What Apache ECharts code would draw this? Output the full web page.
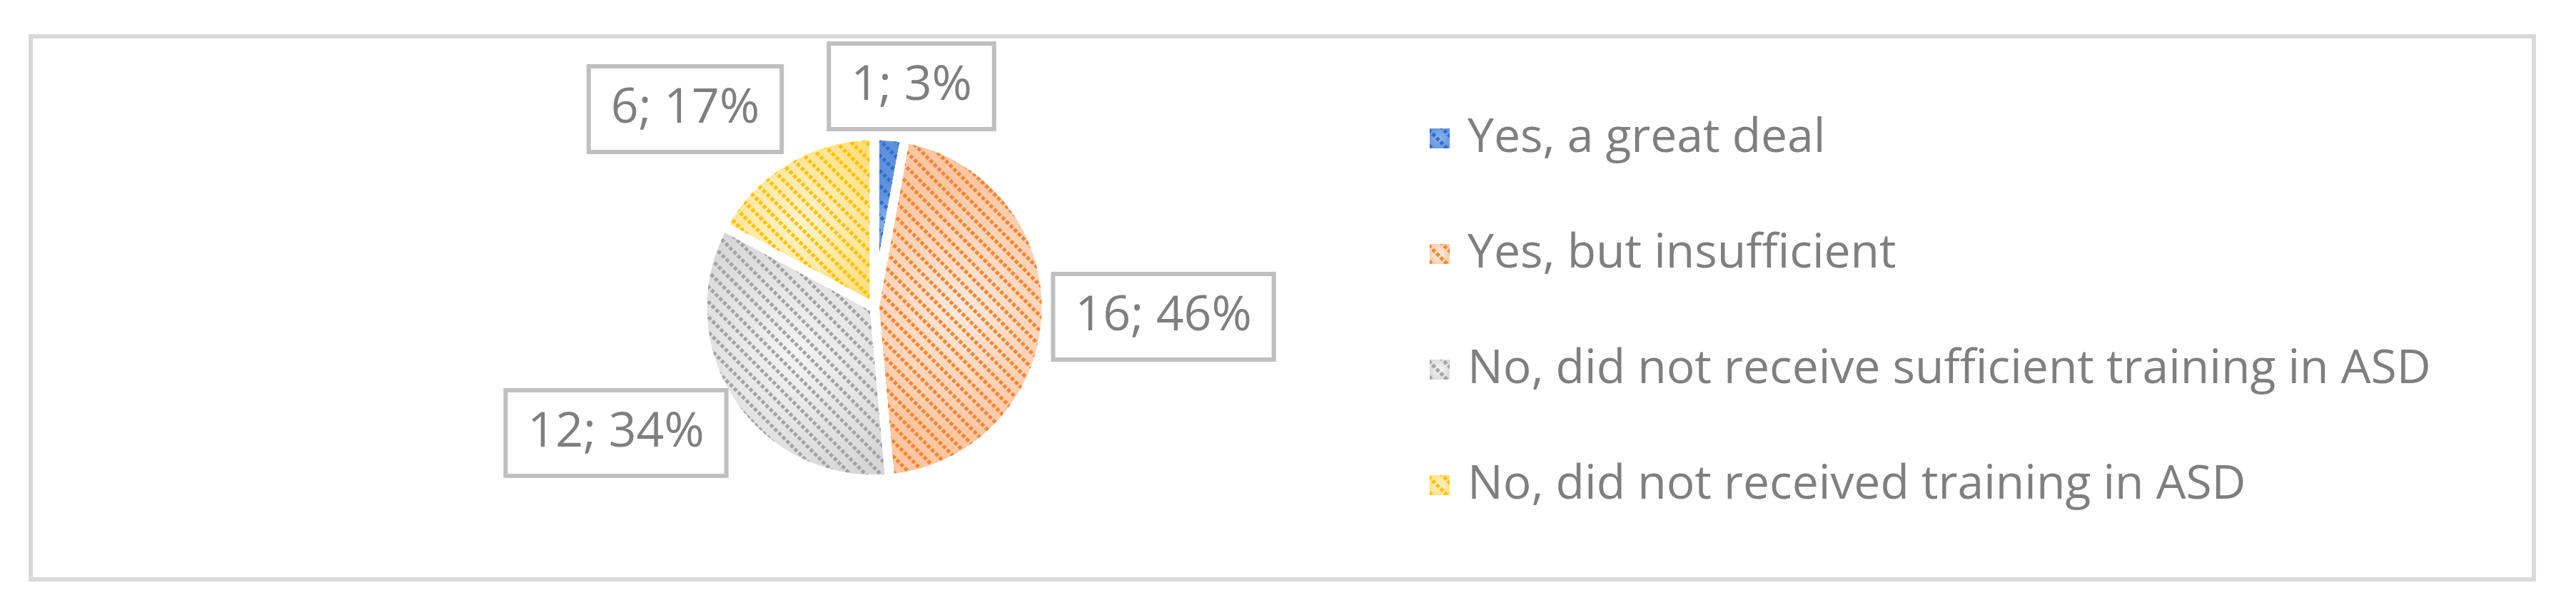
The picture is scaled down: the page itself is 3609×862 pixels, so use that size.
<!DOCTYPE html>
<html>
<head>
<meta charset="utf-8">
<script src="https://cdn.jsdelivr.net/npm/echarts@6/dist/echarts.min.js"></script>
<style>
html,body{margin:0;padding:0;background:#fff;}
#chart{width:3609px;height:862px;}
</style>
</head>
<body>
<div id="chart"></div>
<script>
// ---- data ----
const categories = [
  'Yes, a great deal',
  'Yes, but insufficient',
  'No, did not receive sufficient training in ASD',
  'No, did not received training in ASD'
];
const counts = [1, 16, 12, 6];

// ---- styles ----
const dotColors = ['#2E6FCF', '#F7832F', '#A3A3A3', '#FFC000'];
const fillInner = ['#8DB3EA', '#FFEADC', '#F4F4F4', '#FFF3CF'];
const fillOuter = ['#5F92DC', '#FCC7A2', '#D6D6D6', '#FFDC70'];
const labelOffsets = [[52, -310], [405, 13], [-362, 176], [-265, -278]];
const pieCenter = [1225, 431];

function decalFor(c) {
  return {
    symbol: 'rect',
    symbolSize: 1,
    dashArrayX: [5, 3],
    dashArrayY: [5, 10],
    rotation: Math.PI / 4,
    color: c
  };
}

const seriesData = categories.map((name, i) => ({
  name: name,
  value: counts[i],
  itemStyle: {
    color: {
      type: 'radial', x: 0.5, y: 0.5, r: 0.7,
      colorStops: [{offset: 0, color: fillInner[i]}, {offset: 1, color: fillOuter[i]}]
    },
    decal: decalFor(dotColors[i])
  }
}));

const chart = echarts.init(document.getElementById('chart'), null, {renderer: 'canvas'});
chart.setOption({
  animation: false,
  backgroundColor: '#ffffff',
  graphic: [{
    type: 'rect',
    shape: {x: 43, y: 51, width: 3507, height: 761},
    style: {fill: 'none', stroke: '#D9D9D9', lineWidth: 6},
    silent: true
  }],
  legend: {
    orient: 'vertical',
    left: 1998,
    top: 149,
    itemWidth: 28,
    itemHeight: 28,
    itemGap: 82,
    icon: 'rect',
    itemStyle: {borderWidth: 0},
    textStyle: {
      fontFamily: 'Open Sans',
      fontSize: 66,
      lineHeight: 80,
      color: '#7F7F7F',
      padding: [0, 0, 0, 20]
    },
    data: categories
  },
  series: [{
    type: 'pie',
    center: pieCenter,
    radius: 241,
    startAngle: 90,
    clockwise: true,
    percentPrecision: 0,
    avoidLabelOverlap: false,
    emphasis: {disabled: true},
    itemStyle: {borderColor: '#ffffff', borderWidth: 13},
    label: {
      show: true,
      position: 'outside',
      formatter: '{c}; {d}%',
      fontFamily: 'Open Sans',
      fontSize: 68,
      lineHeight: 70,
      color: '#7F7F7F',
      backgroundColor: '#ffffff',
      borderColor: '#BFBFBF',
      borderWidth: 6,
      padding: [22, 28]
    },
    labelLine: {show: false},
    labelLayout: function (p) {
      const o = labelOffsets[p.dataIndex];
      return {x: pieCenter[0] + o[0], y: pieCenter[1] + o[1], align: 'center', verticalAlign: 'middle'};
    },
    data: seriesData
  }]
});
</script>
</body>
</html>
